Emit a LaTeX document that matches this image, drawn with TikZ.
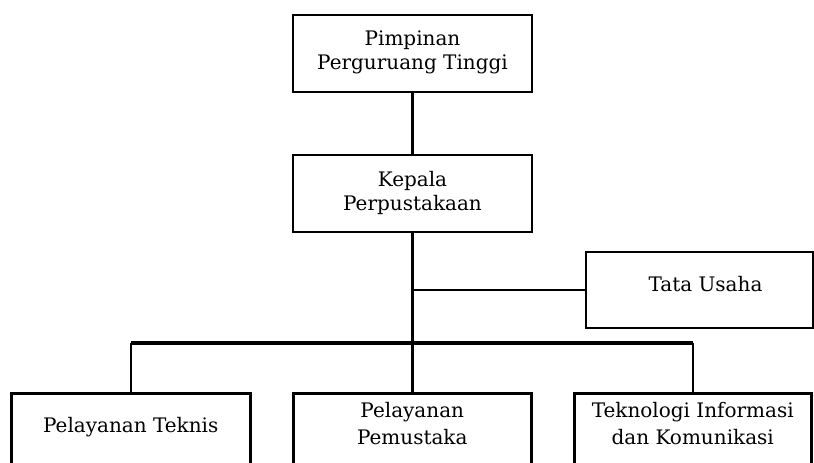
\documentclass[tikz,border=0pt]{standalone}
\usepackage{fontspec}
\setmainfont{DejaVu Serif}
\usetikzlibrary{calc}
\begin{document}
\begin{tikzpicture}[x=1pt,y=-1pt,
  box/.style={draw=black, line width=2.5pt, minimum width=#1, inner sep=0pt},
  box/.default=239pt,
  lbl/.style={font=\fontsize{20}{24}\selectfont, align=center, inner sep=0pt},
  lblb/.style={font=\fontsize{20}{27}\selectfont, align=center, inner sep=0pt},
  conn/.style={line width=2.2pt},
  bus/.style={line width=3.1pt}]
\useasboundingbox (0,0) rectangle (814,463);
\clip (0,0) rectangle (814,463);
\fill[white] (0,0) rectangle (814,463);
% boxes
\node[box, minimum height=77pt] (pim) at (412.5,53.5) {};
\node[lbl] (pimt) at ($(pim.center)+(0,-1)$) {Pimpinan\\Perguruang Tinggi};
\node[box, minimum height=77pt] (kep) at (412.5,193.5) {};
\node[lbl] (kept) at ($(kep.center)+(0,-1)$) {Kepala\\Perpustakaan};
\node[box=227pt, minimum height=76pt] (tu) at (699.5,290) {};
\node[lbl] (tut) at ($(tu.center)+(6,-6)$) {Tata Usaha};
\node[box=239pt, minimum height=140pt, anchor=north west] (tek) at (10,392) {};
\node[lblb] (tekt) at ($(tek.north)+(0,35)$) {Pelayanan Teknis};
\node[box=238pt, minimum height=140pt, anchor=north west] (pem) at (292,392) {};
\node[lblb] (pemt) at ($(pem.north)+(0,32)$) {Pelayanan\\Pemustaka};
\node[box=237pt, minimum height=140pt, anchor=north west] (tik) at (573,392) {};
\node[lblb] (tikt) at ($(tik.north)+(0,32)$) {Teknologi Informasi\\dan Komunikasi};
% connectors
\coordinate (busL) at (tek.north |- 0,343);
\coordinate (busR) at (tik.north |- 0,343);
\coordinate (tuj) at (kep.south |- tu.west);
\draw[conn] (pim.south) -- (kep.north);
\draw[conn] (kep.south) -- (kep.south |- pem.north);
\draw[conn] (tuj) -- (tu.west);
\draw[bus] (busL) -- (busR);
\draw[conn] (busL) -- (tek.north);
\draw[conn] (busR) -- (tik.north);
\end{tikzpicture}
\end{document}
